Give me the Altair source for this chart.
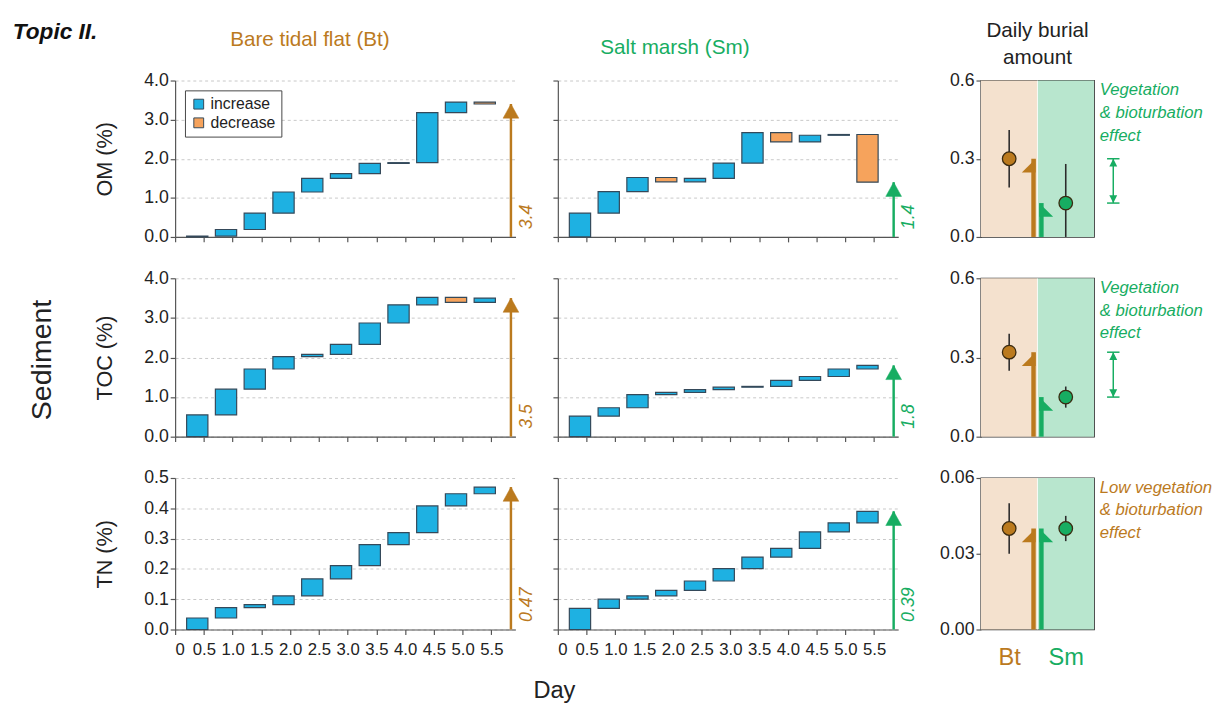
import altair as alt
import pandas as pd

# ---------------------------------------------------------------- data
DAYS = [0.0, 0.5, 1.0, 1.5, 2.0, 2.5, 3.0, 3.5, 4.0, 4.5, 5.0, 5.5]

# cumulative content (%) in the sediment at each sampling day
OM_BT = [0.00, 0.02, 0.19, 0.61, 1.15, 1.50, 1.62, 1.88, 1.90, 3.18, 3.45, 3.40]
OM_SM = [0.00, 0.61, 1.16, 1.52, 1.41, 1.50, 1.89, 2.67, 2.43, 2.60, 2.62, 1.40]
TOC_BT = [0.00, 0.55, 1.20, 1.71, 2.02, 2.08, 2.33, 2.87, 3.33, 3.52, 3.39, 3.50]
TOC_SM = [0.00, 0.52, 0.73, 1.06, 1.12, 1.19, 1.25, 1.27, 1.42, 1.52, 1.71, 1.80]
TN_BT = [0.000, 0.038, 0.072, 0.082, 0.111, 0.167, 0.211, 0.280, 0.320, 0.408, 0.448, 0.470]
TN_SM = [0.000, 0.070, 0.100, 0.111, 0.129, 0.160, 0.201, 0.239, 0.268, 0.322, 0.352, 0.390]

# total accumulation written beside the arrows
END_LABELS = {"OM_BT": "3.4", "OM_SM": "1.4", "TOC_BT": "3.5",
              "TOC_SM": "1.8", "TN_BT": "0.47", "TN_SM": "0.39"}

# daily burial amount (mean, lower and upper bound) for Bt and Sm
SITES = ["Bt", "Sm"]
OM_RATE, OM_LOW, OM_HIGH = [0.30, 0.13], [0.19, 0.00], [0.41, 0.28]
TOC_RATE, TOC_LOW, TOC_HIGH = [0.32, 0.15], [0.25, 0.11], [0.39, 0.19]
TN_RATE, TN_LOW, TN_HIGH = [0.040, 0.040], [0.030, 0.035], [0.050, 0.045]

NOTES = {
    "OM": ["Vegetation", "& bioturbation", "effect"],
    "TOC": ["Vegetation", "& bioturbation", "effect"],
    "TN": ["Low vegetation", "& bioturbation", "effect"],
}

# ---------------------------------------------------------------- style
BLUE = "#1eb1e2"
ORANGE = "#f6a35c"
EDGE = "#34495a"
BROWN = "#bb7a1e"
GREEN = "#17ad62"
TAN = "#f4e1ce"
MINT = "#b8e6ce"
AXIS = "#555555"
SANS = "Liberation Sans, Arial, sans-serif"

X_MAX = 5.92
ARROW_X = 5.84
PANEL_W = 346
SIDE_W = 115
GAP_1 = 43
GAP_2 = 84
ROW_H = [159, 161, 154]
ROW_GAP = 42

TRI_UP = "M0,0 L1,1.8 L-1,1.8 Z"
HALF_LEFT = "M0.32,0 L0.32,2 L-1.7,2 Z"
HALF_RIGHT = "M-0.32,0 L-0.32,2 L1.7,2 Z"
HEAD_UP = "M0,0 L0.8,1.6 L-0.8,1.6 Z"
HEAD_DOWN = "M0,0 L0.8,-1.6 L-0.8,-1.6 Z"

DAY_EXPR = "datum.value == 0 ? '0' : format(datum.value, '.1f')"


def waterfall(series, end_label, colour, ymax, ystep, yfmt, ytitle, row, col,
              title=None, extra=None):
    recs = []
    for i in range(1, len(DAYS)):
        a, b = series[i - 1], series[i]
        recs.append({"x0": DAYS[i - 1] + 0.2, "x1": DAYS[i - 1] + 0.57,
                     "lo": min(a, b), "hi": max(a, b),
                     "kind": "increase" if b >= a else "decrease"})
    bars_df = pd.DataFrame(recs)
    n = int(round(ymax / ystep))
    yticks = [round(k * ystep, 4) for k in range(n + 1)]

    xscale = alt.Scale(domain=[0, X_MAX], nice=False, zero=False)
    yscale = alt.Scale(domain=[0, ymax], nice=False)
    bottom = row == 2
    xaxis = alt.Axis(values=DAYS, labelExpr=DAY_EXPR, labels=bottom, grid=False,
                     tickSize=5, labelFont=SANS, labelFontSize=17,
                     labelOverlap=False, labelPadding=7, labelColor="#222",
                     title="Day" if (bottom and col == 0) else None,
                     titleX=385, titleY=62, titleBaseline="middle",
                     titleFont=SANS, titleFontSize=24, titleFontWeight="normal",
                     titleColor="#222")
    yaxis = alt.Axis(values=yticks, format=yfmt, labels=(col == 0), grid=True,
                     gridDash=[3, 3], gridColor="#c8c8c8", tickSize=5,
                     labelFont=SANS, labelFontSize=18, labelColor="#222",
                     title=ytitle if col == 0 else None, titleFont=SANS,
                     titleFontSize=22, titleFontWeight="normal", titleColor="#222",
                     titlePadding=28)

    if row == 0 and col == 0:
        legend = alt.Legend(orient="top-left", title=None, offset=10,
                            strokeColor="#444", fillColor="white", padding=6,
                            symbolType="square", symbolSize=100,
                            symbolStrokeColor=EDGE, symbolStrokeWidth=1,
                            labelFont=SANS, labelFontSize=16, labelColor="#222",
                            rowPadding=3)
    else:
        legend = None

    bars = alt.Chart(bars_df).mark_bar(stroke=EDGE, strokeWidth=1.2).encode(
        x=alt.X("x0:Q", scale=xscale, axis=xaxis),
        x2="x1:Q",
        y=alt.Y("lo:Q", scale=yscale, axis=yaxis),
        y2="hi:Q",
        color=alt.Color("kind:N", legend=legend,
                        scale=alt.Scale(domain=["increase", "decrease"],
                                        range=[BLUE, ORANGE])),
    )

    arr_df = pd.DataFrame({"x": [ARROW_X], "zero": [0.0], "v": [series[-1]],
                           "ylab": [ymax * 0.05], "label": [end_label]})
    base = alt.Chart(arr_df)
    shaft = base.mark_rule(color=colour, strokeWidth=2.5).encode(
        x=alt.X("x:Q", scale=xscale, axis=xaxis),
        y=alt.Y("zero:Q", scale=yscale, axis=yaxis),
        y2="v:Q",
    )
    head = base.mark_point(shape=TRI_UP, size=256, filled=True, fill=colour,
                           stroke=colour, strokeWidth=0.5, opacity=1).encode(
        x=alt.X("x:Q", scale=xscale, axis=xaxis),
        y=alt.Y("v:Q", scale=yscale, axis=yaxis),
    )
    # rotated label: local "down" points to the right of the arrow
    lab = base.mark_text(angle=270, align="left", baseline="top", dy=7,
                         font=SANS, fontStyle="italic", fontSize=18,
                         color=colour).encode(
        x=alt.X("x:Q", scale=xscale, axis=xaxis),
        y=alt.Y("ylab:Q", scale=yscale, axis=yaxis),
        text="label:N",
    )
    layers = [bars, shaft, head, lab]
    if extra is not None:
        layers += extra
    props = dict(width=PANEL_W, height=ROW_H[row])
    if title is not None:
        props["title"] = title
    return alt.layer(*layers).properties(**props)


def burial(rate, low, high, ymax, yfmt, row, note, note_colour, bracket):
    xscale = alt.Scale(domain=[0, 2], nice=False, zero=False)
    yscale = alt.Scale(domain=[0, ymax], nice=False)
    if row == 2:
        xaxis = alt.Axis(values=[0.5, 1.5],
                         labelExpr="datum.value < 1 ? 'Bt' : 'Sm'",
                         labelColor={"condition": {"test": "datum.value < 1",
                                                   "value": BROWN},
                                     "value": GREEN},
                         ticks=False, domain=False, grid=False,
                         labelFont=SANS, labelFontSize=24, labelPadding=17,
                         title=None)
    else:
        xaxis = None
    yaxis = alt.Axis(values=[0, ymax / 2, ymax], format=yfmt, grid=False,
                     tickSize=5, domainColor="#333", labelFont=SANS,
                     labelFontSize=18, labelColor="#222", title=None)

    x_pos = {"Bt": 0.5, "Sm": 1.5}
    bg_df = pd.DataFrame({"site": SITES, "x0": [0.0, 1.0], "x1": [1.0, 2.0],
                          "y0": [0.0, 0.0], "y1": [ymax, ymax],
                          "fill": [TAN, MINT]})
    pt_df = pd.DataFrame({"site": SITES, "x": [x_pos[s] for s in SITES],
                          "rate": rate, "low": low, "high": high,
                          "fill": [BROWN, GREEN]})

    def X(f):
        return alt.X(f, scale=xscale, axis=xaxis)

    def Y(f):
        return alt.Y(f, scale=yscale, axis=yaxis)

    bg = alt.Chart(bg_df).mark_rect().encode(
        x=X("x0:Q"), x2="x1:Q", y=Y("y0:Q"), y2="y1:Q",
        fill=alt.Fill("fill:N", scale=None))
    divider = alt.Chart(pd.DataFrame({"x": [1.0], "y0": [0.0], "y1": [ymax]})).mark_rule(
        color="white", strokeWidth=1, opacity=0.8).encode(
        x=X("x:Q"), y=Y("y0:Q"), y2="y1:Q")

    arrows_df = pd.DataFrame({"x": [0.93, 1.07], "zero": [0.0, 0.0], "v": rate,
                              "fill": [BROWN, GREEN]})
    shafts = alt.Chart(arrows_df).mark_rule(strokeWidth=4.5).encode(
        x=X("x:Q"), y=Y("zero:Q"), y2="v:Q", color=alt.Color("fill:N", scale=None))
    head_bt = alt.Chart(arrows_df.iloc[[0]]).mark_point(
        shape=HALF_LEFT, size=196, filled=True, fill=BROWN, opacity=1,
        strokeWidth=0).encode(x=X("x:Q"), y=Y("v:Q"))
    head_sm = alt.Chart(arrows_df.iloc[[1]]).mark_point(
        shape=HALF_RIGHT, size=196, filled=True, fill=GREEN, opacity=1,
        strokeWidth=0).encode(x=X("x:Q"), y=Y("v:Q"))

    err = alt.Chart(pt_df).mark_rule(color="#2b2b2b", strokeWidth=1.6).encode(
        x=X("x:Q"), y=Y("low:Q"), y2="high:Q")
    pts = alt.Chart(pt_df).mark_point(filled=True, size=190, stroke="#3a2a10",
                                      strokeWidth=1.3, opacity=1).encode(
        x=X("x:Q"), y=Y("rate:Q"), fill=alt.Fill("fill:N", scale=None))

    note_df = pd.DataFrame({"x": [2.1], "y": [ymax], "t": [note]})
    txt = alt.Chart(note_df).mark_text(align="left", baseline="top", dy=2,
                                       lineHeight=23, font=SANS,
                                       fontStyle="italic", fontSize=17,
                                       color=note_colour).encode(
        x=X("x:Q"), y=Y("y:Q"), text="t")

    layers = [bg, divider, shafts, head_bt, head_sm, err, pts, txt]

    if bracket:
        br_df = pd.DataFrame({"x": [2.34], "xa": [2.23], "xb": [2.45],
                              "top": [rate[0]], "bot": [rate[1]]})
        brc = alt.Chart(br_df)
        layers += [
            brc.mark_rule(color=GREEN, strokeWidth=1.5).encode(
                x=X("x:Q"), y=Y("top:Q"), y2="bot:Q"),
            brc.mark_rule(color=GREEN, strokeWidth=1.5).encode(
                x=X("xa:Q"), x2="xb:Q", y=Y("top:Q")),
            brc.mark_rule(color=GREEN, strokeWidth=1.5).encode(
                x=X("xa:Q"), x2="xb:Q", y=Y("bot:Q")),
            brc.mark_point(shape=HEAD_UP, size=100, filled=True, fill=GREEN,
                           opacity=1, strokeWidth=0).encode(x=X("x:Q"), y=Y("top:Q")),
            brc.mark_point(shape=HEAD_DOWN, size=100, filled=True, fill=GREEN,
                           opacity=1, strokeWidth=0).encode(x=X("x:Q"), y=Y("bot:Q")),
        ]

    props = dict(width=SIDE_W, height=ROW_H[row],
                 view=alt.ViewBackground(stroke="#333", strokeWidth=1.3))
    if row == 0:
        props["title"] = alt.TitleParams(["Daily burial", "amount"], font=SANS,
                                         fontSize=21, fontWeight="normal",
                                         color="#222", offset=4, lineHeight=27)
    return alt.layer(*layers).properties(**props)


def spacer(width, row):
    # an empty cell that only keeps the columns apart
    return alt.Chart(pd.DataFrame({"v": [0.0]})).mark_point(opacity=0).encode(
        x=alt.X("v:Q", axis=None), y=alt.Y("v:Q", axis=None)
    ).properties(width=width, height=ROW_H[row])


# ---------------------------------------------------------------- panels
# figure-level captions, anchored to the TOC panel (second row, first column)
topic = alt.Chart(pd.DataFrame({"t": ["Topic II."]})).mark_text(
    align="left", baseline="middle", font=SANS, fontWeight="bold",
    fontStyle="italic", fontSize=23, color="#111").encode(
    x=alt.value(-165), y=alt.value(-(ROW_H[0] + ROW_GAP) - 49), text="t:N")
sediment = alt.Chart(pd.DataFrame({"t": ["Sediment"]})).mark_text(
    align="center", baseline="middle", angle=270, font=SANS, fontSize=29,
    color="#222").encode(x=alt.value(-135), y=alt.value(83), text="t:N")

bt_title = alt.TitleParams("Bare tidal flat (Bt)", font=SANS, fontSize=21,
                           fontWeight="normal", color=BROWN, offset=22, dx=-36)
sm_title = alt.TitleParams("Salt marsh (Sm)", font=SANS, fontSize=21,
                           fontWeight="normal", color=GREEN, offset=22, dx=-54)

rows_spec = [
    ("OM", OM_BT, OM_SM, 4.0, 1.0, ".1f", "OM (%)",
     OM_RATE, OM_LOW, OM_HIGH, 0.6, ".1f", GREEN, True),
    ("TOC", TOC_BT, TOC_SM, 4.0, 1.0, ".1f", "TOC (%)",
     TOC_RATE, TOC_LOW, TOC_HIGH, 0.6, ".1f", GREEN, True),
    ("TN", TN_BT, TN_SM, 0.5, 0.1, ".1f", "TN (%)",
     TN_RATE, TN_LOW, TN_HIGH, 0.06, ".2f", BROWN, False),
]

cells = []
for r, (key, bt, sm, ymax, ystep, yfmt, ytitle, rate, low, high, rmax, rfmt,
        ncol, bracket) in enumerate(rows_spec):
    left_extra = [topic, sediment] if r == 1 else None
    left = waterfall(bt, END_LABELS[key + "_BT"], BROWN, ymax, ystep, yfmt, ytitle,
                     r, 0, title=bt_title if r == 0 else None, extra=left_extra)
    mid = waterfall(sm, END_LABELS[key + "_SM"], GREEN, ymax, ystep, yfmt, ytitle,
                    r, 1, title=sm_title if r == 0 else None)
    side = burial(rate, low, high, rmax, rfmt, r, NOTES[key], ncol, bracket)
    cells += [left, spacer(GAP_1, r), mid, spacer(GAP_2, r), side]

chart = alt.concat(
    *cells, columns=5, spacing=alt.RowColnumber(row=ROW_GAP, column=0),
    bounds="flush", align="each"
).resolve_scale(
    color="independent"
).properties(
    padding={"left": 13, "top": 14, "right": 5, "bottom": 5},
    background="white",
).configure_view(stroke=None).configure_axis(
    domainColor=AXIS, tickColor=AXIS, domainWidth=1.2, tickWidth=1.2
)

chart.save("out.html", embed_options={"renderer": "svg", "actions": False})
